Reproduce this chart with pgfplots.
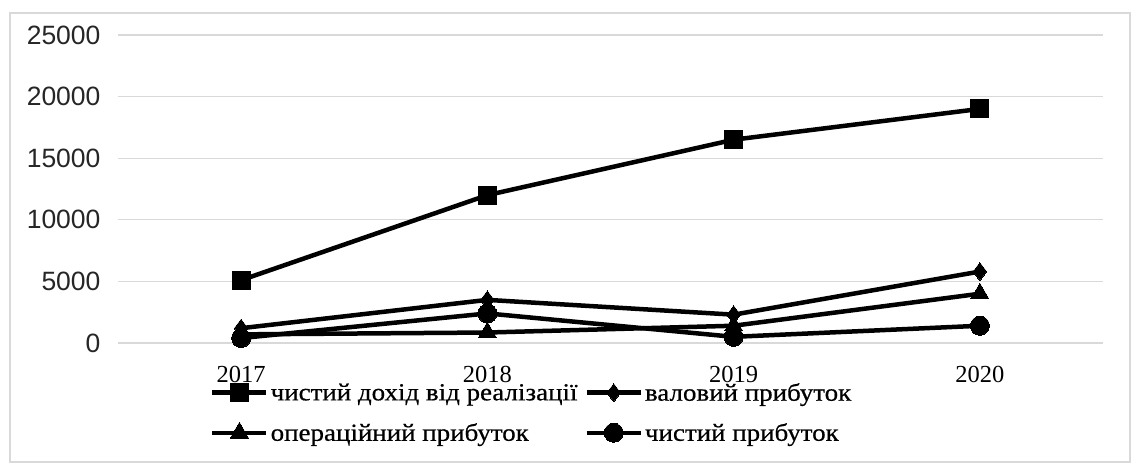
\documentclass[border=0pt]{standalone}
\usepackage{pgfplots}
\pgfplotsset{compat=1.18}
\usepackage{fontspec}
\setmainfont{Liberation Serif}
\newfontfamily\sansf{Liberation Sans}
\newfontfamily\legf[FakeStretch=1.1, FakeBold=0.6]{Liberation Serif}
\definecolor{gridgray}{HTML}{D9D9D9}
\begin{document}
\begin{tikzpicture}[x=1pt,y=1pt]
\useasboundingbox (0,0) rectangle (1141,465);
\draw[gridgray, line width=1.5pt] (10,3) rectangle (1130,452);
\begin{axis}[
  at={(118pt,122pt)}, anchor=south west,
  scale only axis, width=985pt, height=308pt,
  xmin=-0.5, xmax=3.5, ymin=0, ymax=25000,
  xtick={0,1,2,3}, xticklabels={2017,2018,2019,2020},
  ytick={0,5000,10000,15000,20000,25000},
  scaled y ticks=false,
  /pgf/number format/assume math mode=true,
  /pgf/number format/1000 sep={},
  axis line style={draw=none},
  major tick length=0pt,
  ymajorgrids, major grid style={gridgray, line width=1.2pt},
  yticklabel style={font=\sansf\fontsize{26.5}{30}\selectfont, text=black!85, xshift=-14pt},
  xticklabel style={font=\fontsize{24.5}{28}\selectfont, yshift=-20pt},
  legend columns=2,
  legend style={at={(axis description cs:0.0934,0)}, anchor=north west, yshift=-38pt,
    draw=none, fill=none, inner sep=0pt, font=\legf\fontsize{24.5}{28}\selectfont,
    /tikz/every even column/.append style={column sep=5pt},
    row sep=17pt},
  legend cell align=left,
  legend image code/.code={\draw[mark repeat=2,mark phase=2] plot coordinates {(0pt,0pt) (27pt,0pt) (54pt,0pt)};},
  every axis plot/.append style={black, line width=4.5pt, mark options={solid, line width=0pt, fill=black}},
  clip=false,
]
\addplot[mark=square*, mark size=9pt] coordinates {(0,5100) (1,12000) (2,16500) (3,19000)};
\addlegendentry{чистий дохід від реалізації}
\addplot[mark=diamond*, mark size=9pt] coordinates {(0,1200) (1,3500) (2,2300) (3,5800)};
\addlegendentry{валовий прибуток}
\addplot[mark=triangle*, mark size=10.5pt] coordinates {(0,700) (1,850) (2,1400) (3,4000)};
\addlegendentry{операційний прибуток}
\addplot[mark=*, mark size=9.5pt] coordinates {(0,400) (1,2400) (2,500) (3,1400)};
\addlegendentry{чистий прибуток}
\end{axis}
\end{tikzpicture}
\end{document}
